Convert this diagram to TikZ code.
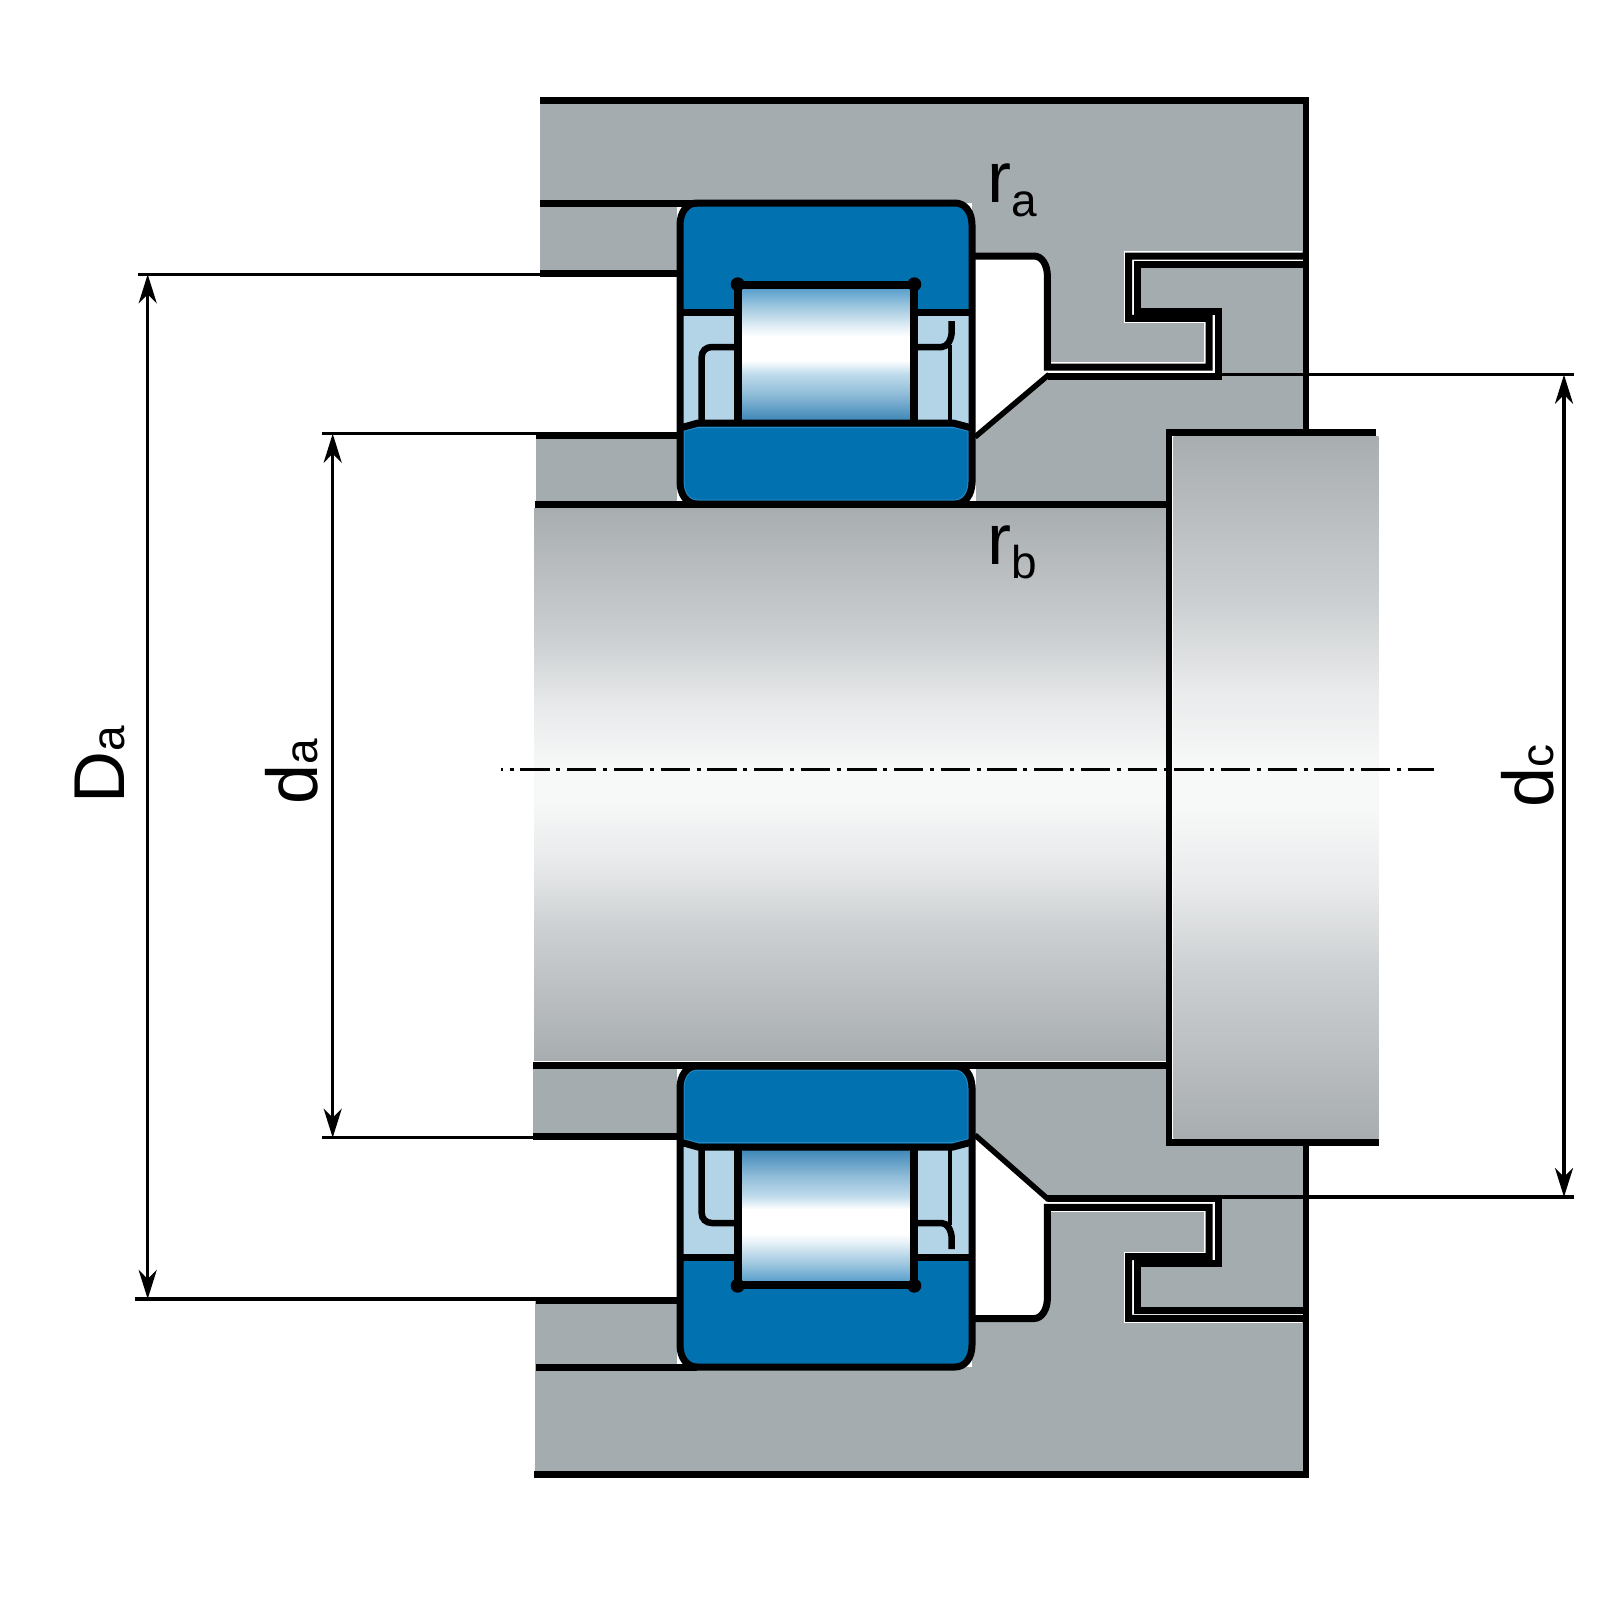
\documentclass[tikz,border=0pt]{standalone}
\usepackage{fontspec}
\setmainfont{Liberation Sans}
\usetikzlibrary{arrows.meta}
\definecolor{housegray}{HTML}{A5ACAF}
\definecolor{ringblue}{HTML}{0271B0}
\definecolor{ringedge}{HTML}{2A8AC6}
\definecolor{cageblue}{HTML}{B3D3E7}
\definecolor{sa}{HTML}{A8ADB0}
\definecolor{sb}{HTML}{CDD0D2}
\definecolor{sc}{HTML}{E8EAEB}
\definecolor{sd}{HTML}{F7F8F8}
\definecolor{ra}{HTML}{5BA0CD}
\definecolor{rb}{HTML}{A0C8E0}
\definecolor{rc}{HTML}{E8F2F8}
\definecolor{rd}{HTML}{C0DCEC}
\definecolor{re}{HTML}{90BCD8}
\definecolor{rf}{HTML}{3F88B8}
\pgfdeclareverticalshading{shaftshade}{100bp}{color(0bp)=(sa); color(25bp)=(sa); color(37bp)=(sb); color(43bp)=(sc); color(48.5bp)=(sd); color(51.5bp)=(sd); color(57bp)=(sc); color(63bp)=(sb); color(75bp)=(sa); color(100bp)=(sa)}
\pgfdeclareverticalshading{rollerup}{100bp}{color(0bp)=(rf); color(25bp)=(rf); color(35bp)=(re); color(42.7bp)=(rd); color(47.7bp)=(white); color(56.7bp)=(white); color(60bp)=(rc); color(68.2bp)=(rb); color(75bp)=(ra); color(100bp)=(ra)}
\pgfdeclareverticalshading{rollerdown}{100bp}{color(0bp)=(ra); color(25bp)=(ra); color(31.8bp)=(rb); color(40bp)=(rc); color(43.3bp)=(white); color(52.3bp)=(white); color(57.3bp)=(rd); color(65bp)=(re); color(75bp)=(rf); color(100bp)=(rf)}
\tikzset{x=1pt, y=-1pt,
  steel/.style={line width=7pt},
  wall/.style={line width=6pt},
  dimline/.style={line width=3.3pt},
  dimarrow/.style={line width=3.5pt, {Stealth[length=29pt,width=18pt,inset=9pt]}-{Stealth[length=29pt,width=18pt,inset=9pt]}},
  lbl/.style={inner sep=0pt, anchor=base west},
  vlbl/.style={inner sep=0pt, anchor=base west, rotate=90}}
\newcommand{\bigtxt}[2]{\fontsize{72}{72}\selectfont #1\fontsize{46}{46}\selectfont #2}
\newcommand{\subtxt}[3]{\fontsize{72}{72}\selectfont #1\raisebox{#3}{\fontsize{46}{46}\selectfont #2}}
\newcommand{\bearingpart}[1]{
    \fill[white] (676.5,203) rectangle (695,222);
    \fill[white] (676.5,504) rectangle (695,485);
    \fill[white] (975.7,504) rectangle (957,485);
    \fill[cageblue] (680,312) rectangle (972,428);
    \fill[ringblue] (680,312.5) -- (680,225) .. controls (680,212) and (687,203) .. (697,203)
     -- (955,203) .. controls (965,203) and (972,212) .. (972,225) -- (972,312.5) -- cycle;
    \fill[ringblue] (680,428) -- (698,423) -- (953,423) -- (972,428) -- (972,482)
     .. controls (972,495) and (965,504) .. (955,504) -- (697,504)
     .. controls (687,504) and (680,495) .. (680,482) -- cycle;
    \draw[ringedge, line width=1pt] (684,431) -- (698,427.5) -- (953,427.5) -- (968,431) -- (968,482)
     .. controls (968,492) and (963,500) .. (955,500) -- (697,500)
     .. controls (689,500) and (684,492) .. (684,482) -- cycle;
    \shade[shading=#1] (741,289) rectangle (911,420);
    \draw[steel] (680,428) -- (680,225) .. controls (680,212) and (687,203) .. (697,203)
     -- (955,203) .. controls (965,203) and (972,212) .. (972,225) -- (972,482)
     .. controls (972,495) and (965,504) .. (955,504) -- (697,504)
     .. controls (687,504) and (680,495) .. (680,482) -- cycle;
    \draw[steel] (680,312.5) -- (738,312.5) (914,312.5) -- (972,312.5);
    \draw[steel] (680,428) -- (698,423) -- (953,423) -- (972,428);
    \draw[line width=7.5pt] (738,423) -- (738,285) -- (914,285) -- (914,423);
    \fill (737.7,284.3) circle (7pt);
    \fill (914.3,284.3) circle (7pt);
    \draw[line width=6.5pt] (701.7,423) -- (701.7,357) .. controls (701.7,351) and (706,347) .. (712,347) -- (738,347);
    \draw[line width=6.5pt] (914,347) -- (941.7,347) .. controls (947,347) and (951.7,340) .. (951.7,331) -- (951.7,321);
    \draw[line width=4pt] (950,345) -- (950,423);
}
\begin{document}
\begin{tikzpicture}
   \useasboundingbox (0,0) rectangle (1612,1612);
   \coordinate (DaTop) at (147.7,274.3);
   \coordinate (DaBot) at (147.7,1299);
   \coordinate (daTop) at (332.7,433.7);
   \coordinate (daBot) at (332.7,1137.7);
   \coordinate (dcTop) at (1564,374.7);
   \coordinate (dcBot) at (1564,1197);
   % housing and spacer
   \fill[housegray] (540,100) -- (1305.6,100) -- (1305.6,256) -- (1128.7,256) -- (1128.7,318.3)
     -- (1209,318.3) -- (1209,367) -- (1047.4,367) -- (1047.4,276)
     .. controls (1047.4,265) and (1042,256) .. (1034,256) -- (972,256) -- (972,203)
     -- (680,203) -- (680,273) -- (540,273) -- cycle;
   \fill[housegray] (1305.6,264.5) -- (1137.4,264.5) -- (1137.4,311.3) -- (1218,311.3) -- (1218,376)
     -- (1047.6,376) -- (972,440) -- (972,504) -- (1168.5,504) -- (1168.5,432.7) -- (1305.6,432.7) -- cycle;
   \fill[housegray] (536,435.5) rectangle (680,504);
   \fill[housegray] (533,1065.5) rectangle (680,1136.3);
   \fill[housegray] (1305.8,1310) -- (1137.4,1310) -- (1137.4,1263.7) -- (1218,1263.7) -- (1218,1198.7)
     -- (1047.6,1198.7) -- (972,1135) -- (972,1065.5) -- (1168.6,1065.5) -- (1168.6,1142) -- (1305.8,1142) -- cycle;
   \fill[housegray] (535,1474) -- (1305.8,1474) -- (1305.8,1318.3) -- (1128.6,1318.3) -- (1128.6,1256.7)
     -- (1209.2,1256.7) -- (1209.2,1207.3) -- (1047.4,1207.3) -- (1047.4,1298)
     .. controls (1047.4,1309) and (1042,1318.5) .. (1034,1318.5) -- (972,1318.5) -- (972,1367)
     -- (680,1367) -- (680,1300) -- (535,1300) -- cycle;
   % shaft
   \shade[shading=shaftshade] (534,508) rectangle (1166,1060);
   \shade[shading=shaftshade] (1173.5,436) rectangle (1378.5,1138);
   \begin{scope}
    \bearingpart{rollerup}
   \end{scope}
   \begin{scope}[shift={(0,1570)}, yscale=-1]
    \bearingpart{rollerdown}
   \end{scope}
   % outlines
   \draw[white, line width=9.5pt] (1302,256) -- (1128.7,256) -- (1128.7,318.3) -- (1209,318.3) -- (1209,367) -- (1050,367);
   \draw[white, line width=9.5pt] (1302,1318.3) -- (1128.6,1318.3) -- (1128.6,1256.7) -- (1209.2,1256.7) -- (1209.2,1207.3) -- (1050,1207.3);
   \draw[steel] (540,100.3) -- (1305.8,100.3);
   \draw[steel] (540,203) -- (697,203);
   \draw[steel] (540,273.4) -- (680,273.4);
   \draw[steel] (536,435.5) -- (680,435.5);
   \draw[steel] (535,504.3) -- (1171,504.3);
   \draw[steel] (1166,432.7) -- (1376.3,432.7);
   \draw[wall] (1168.5,429.5) -- (1168.5,1145.5);
   \draw[steel] (1166,1142) -- (1378.5,1142);
   \draw[steel] (533,1065.5) -- (1168,1065.5);
   \draw[steel] (533,1136.3) -- (680,1136.3);
   \draw[steel] (535.6,1300) -- (680,1300);
   \draw[steel] (535.6,1367) -- (697,1367);
   \draw[steel] (534.4,1474.3) -- (1305.8,1474.3);
   \draw[wall] (1305.6,97) -- (1305.6,430);
   \draw[wall] (1305.8,1145) -- (1305.8,1477.8);
   \draw[steel] (972,256) -- (1034,256) .. controls (1042,256) and (1047.4,265) .. (1047.4,276) -- (1047.4,367)
     -- (1209,367) -- (1209,318.3) -- (1128.7,318.3) -- (1128.7,256) -- (1305.6,256);
   \draw[steel] (1305.6,264.5) -- (1137.4,264.5) -- (1137.4,311.3) -- (1218,311.3) -- (1218,376) -- (1047.6,376);
   \draw[line width=5.5pt] (975,437) -- (1049,374.5);
   \draw[steel] (972,1318.5) -- (1034,1318.5) .. controls (1042,1318.5) and (1047.4,1309) .. (1047.4,1298) -- (1047.4,1207.3)
     -- (1209.2,1207.3) -- (1209.2,1256.7) -- (1128.6,1256.7) -- (1128.6,1318.3) -- (1305.8,1318.3);
   \draw[steel] (1305.8,1310) -- (1137.4,1310) -- (1137.4,1263.7) -- (1218,1263.7) -- (1218,1198.7) -- (1047.6,1198.7);
   \draw[line width=5.5pt] (975,1135) -- (1049,1200);
   % dimensions
   \draw[dimline] (138,274.3) -- (540,274.3);
   \draw[dimline] (134.5,1299) -- (536,1299);
   \draw[dimline] (321.7,433.7) -- (536,433.7);
   \draw[dimline] (322,1137.7) -- (533,1137.7);
   \draw[dimline] (1222,374.7) -- (1573.5,374.7);
   \draw[dimline] (1222,1197) -- (1574,1197);
   \draw[dimarrow] (DaTop) -- (DaBot);
   \draw[dimarrow] (daTop) -- (daBot);
   \draw[dimarrow] (dcTop) -- (dcBot);
   \draw[line width=3pt, dash pattern=on 29.3pt off 6.7pt on 4pt off 6.7pt, dash phase=27.3pt] (501,769) -- (1434,769);
   \node[vlbl] (Da) at (124,803.5) {\bigtxt{D}{a}};
   \node[vlbl] (da) at (317,805) {\bigtxt{d}{a}};
   \node[vlbl] (dc) at (1553,808) {\bigtxt{d}{c}};
   \node[lbl] (rA) at (987,202.7) {\subtxt{r}{a}{-13.3pt}};
   \node[lbl] (rB) at (987,564.3) {\subtxt{r}{b}{-14.4pt}};
\end{tikzpicture}
\end{document}
